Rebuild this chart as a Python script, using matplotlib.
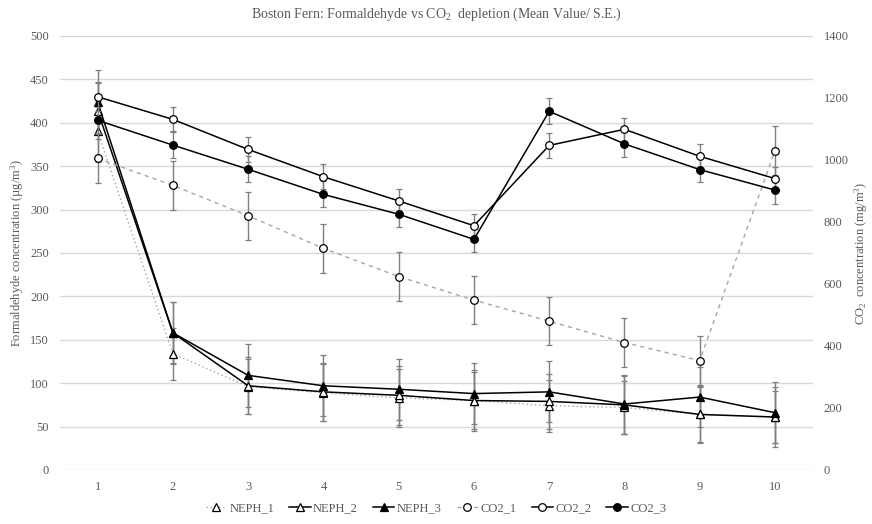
import matplotlib
matplotlib.use("Agg")
import matplotlib.pyplot as plt

plt.rcParams['font.family'] = ['Liberation Serif', 'DejaVu Serif']
plt.rcParams['mathtext.fontset'] = 'custom'
plt.rcParams['mathtext.rm'] = 'Liberation Serif'
plt.rcParams['mathtext.it'] = 'Liberation Serif:italic'
plt.rcParams['mathtext.default'] = 'regular'

# Sampling points
samples = [1, 2, 3, 4, 5, 6, 7, 8, 9, 10]

# Formaldehyde (µg/m3), mean and standard error
neph_1 = [390, 134, 96, 89, 83, 80, 74, 72, 64, 61]
neph_2 = [414, 158, 97, 90, 86, 80, 79, 75, 64, 61]
neph_3 = [424, 158, 109, 97, 93, 88, 90, 76, 84, 66]
neph_1_se = [35, 30, 32, 33, 33, 33, 30, 30, 33, 30]
neph_2_se = [33, 35, 33, 33, 34, 35, 32, 33, 32, 35]
neph_3_se = [37, 36, 36, 35, 35, 35, 35, 34, 35, 35]

# CO2 (mg/m3), mean and standard error
co2_1 = [1005, 918, 820, 715, 624, 548, 480, 411, 353, 1030]
co2_2 = [1204, 1131, 1034, 946, 868, 788, 1047, 1099, 1012, 940]
co2_3 = [1128, 1048, 970, 889, 825, 744, 1157, 1052, 969, 903]
co2_1_se = [80, 80, 78, 78, 78, 78, 78, 78, 78, 80]
co2_2_se = [45, 39, 39, 40, 40, 39, 40, 37, 38, 38]
co2_3_se = [42, 43, 42, 42, 42, 42, 42, 41, 41, 44]

left_ticks = list(range(0, 501, 50))
right_ticks = list(range(0, 1401, 200))

text_col = '#595959'
grid_col = '#d9d9d9'
err_col = '#7f7f7f'
soft_col = '#a6a6a6'

fig = plt.figure(figsize=(8.72, 5.24), dpi=100)
ax = fig.add_axes([0.0688, 0.1031, 0.8631, 0.8282])
ax2 = ax.twinx()

err_kw = dict(ecolor=err_col, elinewidth=1.0, capsize=2.5, capthick=1.0)
mk = dict(markersize=5.5, markeredgewidth=0.9, markeredgecolor='black')

h1 = ax.errorbar(samples, neph_1, yerr=neph_1_se, color=soft_col, lw=1.0,
                 ls=(0, (1, 2)), marker='^', markerfacecolor='white',
                 label='NEPH_1', **err_kw, **mk)
h2 = ax.errorbar(samples, neph_2, yerr=neph_2_se, color='black', lw=1.1,
                 ls='-', marker='^', markerfacecolor='white',
                 label='NEPH_2', **err_kw, **mk)
h3 = ax.errorbar(samples, neph_3, yerr=neph_3_se, color='black', lw=1.1,
                 ls='-', marker='^', markerfacecolor='black',
                 label='NEPH_3', **err_kw, **mk)

h4 = ax2.errorbar(samples, co2_1, yerr=co2_1_se, color=soft_col, lw=1.0,
                  ls=(0, (3, 3)), marker='o', markerfacecolor='white',
                  label='CO2_1', **err_kw, **mk)
h5 = ax2.errorbar(samples, co2_2, yerr=co2_2_se, color='black', lw=1.1,
                  ls='-', marker='o', markerfacecolor='white',
                  label='CO2_2', **err_kw, **mk)
h6 = ax2.errorbar(samples, co2_3, yerr=co2_3_se, color='black', lw=1.1,
                  ls='-', marker='o', markerfacecolor='black',
                  label='CO2_3', **err_kw, **mk)

ax.set_xlim(0.5, 10.5)
ax.set_ylim(0, 500)
ax2.set_ylim(0, 1400)
ax.set_xticks(samples)
ax.set_yticks(left_ticks)
ax2.set_yticks(right_ticks)

ax.yaxis.grid(True, color=grid_col, lw=1.0)
ax.set_axisbelow(True)

for a in (ax, ax2):
    for s in a.spines.values():
        s.set_visible(False)
    a.tick_params(length=0, labelsize=9, labelcolor=text_col)
ax.tick_params(axis='x', pad=8)
ax.tick_params(axis='y', pad=8)
ax2.tick_params(axis='y', pad=8)

ax.set_ylabel('Formaldehyde concentration (µg/m$^3$)', fontsize=9,
              color=text_col, labelpad=3)
ax2.set_ylabel('CO$_2$  concentration (mg/m$^3$)', fontsize=9,
               color=text_col, labelpad=3)

fig.text(0.5, 0.973, 'Boston Fern: Formaldehyde vs CO$_2$  depletion (Mean Value/ S.E.)',
         ha='center', va='center', fontsize=10, color=text_col)

handles = [h1, h2, h3, h4, h5, h6]
labels = ['NEPH_1', 'NEPH_2', 'NEPH_3', 'CO2_1', 'CO2_2', 'CO2_3']
leg = fig.legend([h[0] for h in handles], labels, loc='center',
                 bbox_to_anchor=(0.5, 0.03), ncol=6, frameon=False,
                 fontsize=9, handlelength=1.7, handletextpad=0.2,
                 columnspacing=1.2, labelcolor=text_col)

fig.savefig('out.png', dpi=100)
